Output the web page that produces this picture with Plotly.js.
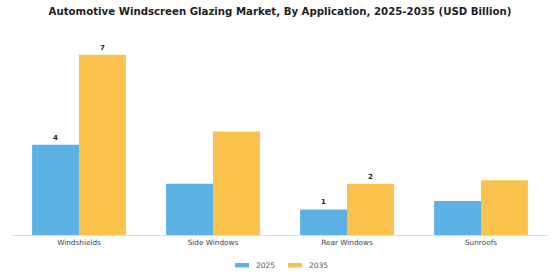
<!DOCTYPE html>
<html>
<head>
<meta charset="utf-8">
<script src="https://cdn.plot.ly/plotly-3.0.1.min.js"></script>
<style>html,body{margin:0;padding:0;background:#fff}#chart{width:560px;height:280px}</style>
</head>
<body>
<div id="chart"></div>
<script>
const categories = ["Windshields", "Side Windows", "Rear Windows", "Sunroofs"];
const values2025 = [3.7, 2.1, 1.05, 1.4];
const values2035 = [7.4, 4.25, 2.1, 2.25];
const labels2025 = ["<b>4</b>", "", "<b>1</b>", ""];
const labels2035 = ["<b>7</b>", "", "<b>2</b>", ""];
const seriesNames = ["2025", "2035"];
const colors = ["#5DB2E5", "#F9C24C"];

const traces = [
  {type: "bar", name: seriesNames[0], x: categories, y: values2025, text: labels2025,
   textposition: "outside", cliponaxis: false, marker: {color: colors[0]},
   textfont: {family: "DejaVu Sans", size: 7, color: "#222"}, hoverinfo: "none"},
  {type: "bar", name: seriesNames[1], x: categories, y: values2035, text: labels2035,
   textposition: "outside", cliponaxis: false, marker: {color: colors[1]},
   textfont: {family: "DejaVu Sans", size: 7, color: "#222"}, hoverinfo: "none"}
];

// custom legend (swatches + labels) in paper coordinates
const px2x = p => (p - 12) / 536;
const px2y = p => (235 - p) / 195;
const swatchX = [235, 288];
const shapes = [], annotations = [];
seriesNames.forEach((n, i) => {
  shapes.push({type: "rect", xref: "paper", yref: "paper",
    x0: px2x(swatchX[i]), x1: px2x(swatchX[i] + 14),
    y0: px2y(267.5), y1: px2y(263),
    fillcolor: colors[i], line: {width: 0}});
  annotations.push({xref: "paper", yref: "paper", x: px2x(swatchX[i] + 19), xanchor: "left",
    y: px2y(265), yanchor: "middle", text: n, showarrow: false,
    font: {family: "DejaVu Sans", size: 7.5, color: "#555"}});
});

const layout = {
  width: 560, height: 280,
  margin: {l: 12, r: 12, t: 40, b: 45},
  paper_bgcolor: "#fff", plot_bgcolor: "#fff",
  title: {text: "<b>Automotive Windscreen Glazing Market, By Application, 2025-2035 (USD Billion)</b>",
          font: {family: "DejaVu Sans", size: 10.2, color: "#222"}, x: 0.5, xanchor: "center", y: 0.958, yanchor: "middle"},
  barmode: "group", bargap: 0.3, bargroupgap: 0,
  xaxis: {showline: true, linecolor: "#ddd", linewidth: 1, ticks: "", showgrid: false,
          tickfont: {family: "DejaVu Sans", size: 7.3, color: "#444"}},
  yaxis: {range: [0, 8], visible: false, showgrid: false, zeroline: false},
  showlegend: false,
  shapes: shapes, annotations: annotations,
  font: {family: "DejaVu Sans"}
};

Plotly.newPlot("chart", traces, layout, {staticPlot: true, displayModeBar: false});
</script>
</body>
</html>
